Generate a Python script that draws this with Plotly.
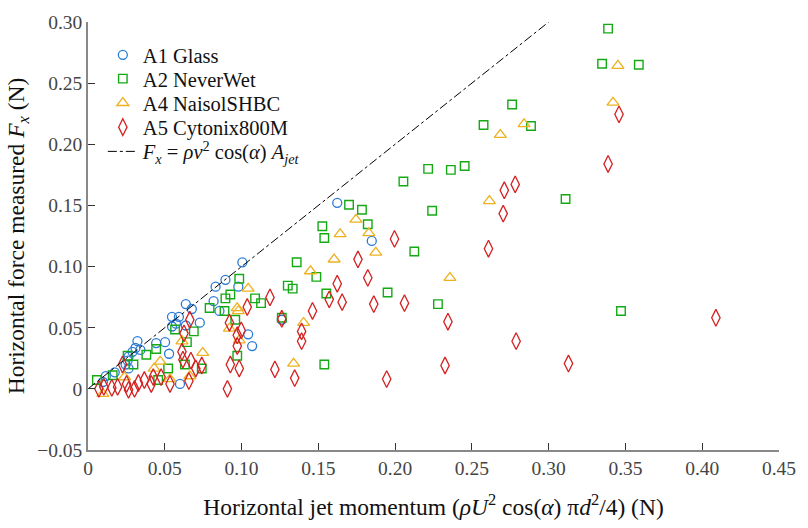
import plotly.graph_objects as go

# A1 Glass
a1_x = [0.1623, 0.1848, 0.1005, 0.0895, 0.0831, 0.0979, 0.0818, 0.0856, 0.0637, 0.0676,
        0.0547, 0.0592, 0.0573, 0.0637, 0.0728, 0.1043, 0.1069, 0.1262, 0.0502, 0.0444,
        0.0322, 0.0309, 0.0290, 0.0341, 0.0264, 0.0258, 0.0245, 0.0528, 0.0174, 0.0116,
        0.0097, 0.0264, 0.0599, 0.0547]
a1_y = [0.1521, 0.1210, 0.1035, 0.0892, 0.0836, 0.0836, 0.0717, 0.0637, 0.0693, 0.0653,
        0.0589, 0.0589, 0.0533, 0.0518, 0.0541, 0.0446, 0.0350, 0.0565, 0.0382, 0.0374,
        0.0390, 0.0334, 0.0303, 0.0318, 0.0263, 0.0231, 0.0199, 0.0287, 0.0135, 0.0104,
        0.0056, 0.0167, 0.0040, 0.0510]

# A2 NeverWet
a2_x = [0.3387, 0.3348, 0.3587, 0.2762, 0.2576, 0.2885, 0.2215, 0.2363, 0.2453, 0.2054,
        0.2241, 0.3110, 0.1822, 0.2125, 0.1951, 0.2279, 0.3471, 0.1700, 0.1784, 0.1526,
        0.1539, 0.1359, 0.1487, 0.1552, 0.1301, 0.1333, 0.0985, 0.0927, 0.0895, 0.1088,
        0.1127, 0.0792, 0.0889, 0.0959, 0.0689, 0.0644, 0.0972, 0.0631, 0.0741, 0.1262,
        0.1539, 0.0567, 0.0444, 0.0380, 0.0258, 0.0296, 0.0161, 0.0058, 0.0522, 0.0457]
a2_y = [0.2946, 0.2659, 0.2651, 0.2325, 0.2158, 0.2150, 0.1799, 0.1791, 0.1823, 0.1696,
        0.1457, 0.1553, 0.1346, 0.1123, 0.0788, 0.0693, 0.0637, 0.1505, 0.1465, 0.1330,
        0.1234, 0.1035, 0.0916, 0.0780, 0.0844, 0.0820, 0.0900, 0.0772, 0.0740, 0.0740,
        0.0701, 0.0661, 0.0637, 0.0565, 0.0470, 0.0382, 0.0271, 0.0199, 0.0167, 0.0581,
        0.0199, 0.0486, 0.0326, 0.0279, 0.0271, 0.0199, 0.0111, 0.0072, 0.0167, 0.0072]

# A4 NaisolSHBC
a4_x = [0.3451, 0.3419, 0.2840, 0.2685, 0.2614, 0.1829, 0.1874, 0.2357, 0.1745, 0.1642,
        0.1603, 0.1449, 0.1043, 0.0972, 0.0979, 0.0921, 0.0985, 0.0612, 0.0747, 0.1404,
        0.1339, 0.0663, 0.0470, 0.0431, 0.0238, 0.0097, 0.0534]
a4_y = [0.2643, 0.2341, 0.2166, 0.2078, 0.1537, 0.1274, 0.1115, 0.0908, 0.1385, 0.1266,
        0.1059, 0.0963, 0.0820, 0.0661, 0.0637, 0.0494, 0.0398, 0.0390, 0.0295, 0.0541,
        0.0207, 0.0104, 0.0223, 0.0167, 0.0096, -0.0040, 0.0080]

# A5 Cytonix800M
a5_x = [0.3458, 0.3387, 0.2782, 0.2711, 0.2704, 0.1996, 0.2608, 0.1822, 0.1861, 0.2061,
        0.2344, 0.2788, 0.3129, 0.2325, 0.1945, 0.4089, 0.1758, 0.1623, 0.1571, 0.1655,
        0.1462, 0.1391, 0.1391, 0.1185, 0.1037, 0.0921, 0.0998, 0.0972, 0.0972, 0.0663,
        0.0625, 0.0612, 0.0618, 0.0670, 0.0702, 0.0741, 0.0927, 0.0985, 0.1217, 0.1346,
        0.0908, 0.0657, 0.1262, 0.0225, 0.0071, 0.0103, 0.0155, 0.0193, 0.0251, 0.0264,
        0.0303, 0.0328, 0.0367, 0.0412, 0.0425, 0.0476, 0.0534]
a5_y = [0.2245, 0.1839, 0.1672, 0.1624, 0.1433, 0.1226, 0.1146, 0.0908, 0.0693, 0.0701,
        0.0549, 0.0390, 0.0207, 0.0191, 0.0080, 0.0581, 0.1059, 0.0860, 0.0732, 0.0709,
        0.0637, 0.0470, 0.0390, 0.0748, 0.0669, 0.0541, 0.0478, 0.0438, 0.0350, 0.0565,
        0.0454, 0.0303, 0.0239, 0.0231, 0.0167, 0.0191, 0.0199, 0.0167, 0.0159, 0.0088,
        0.0000, 0.0064, 0.0573, 0.0199, 0.0000, 0.0016, 0.0008, 0.0016, 0.0040, -0.0008,
        0.0000, 0.0048, 0.0072, 0.0040, 0.0096, 0.0096, 0.0040]

# Model line F_x = rho v^2 cos(alpha) A_jet  (F = momentum)
model_x = [0.0, 0.30]
model_y = [0.0, 0.30]

x_ticks = [0, 0.05, 0.10, 0.15, 0.20, 0.25, 0.30, 0.35, 0.40, 0.45]
x_ticktext = ["0", "0.05", "0.10", "0.15", "0.20", "0.25", "0.30", "0.35", "0.40", "0.45"]
y_ticks = [-0.05, 0, 0.05, 0.10, 0.15, 0.20, 0.25, 0.30]
y_ticktext = ["\u22120.05", "0", "0.05", "0.10", "0.15", "0.20", "0.25", "0.30"]

FONT = "Liberation Serif"
c_blue, c_green, c_orange, c_red = "#2b7bd6", "#14aa14", "#EDB120", "#D42020"

fig = go.Figure()
fig.add_trace(go.Scatter(x=a1_x, y=a1_y, mode="markers", name="A1 Glass", legend="legend",
                         marker=dict(symbol="circle-open", size=9, color=c_blue, line=dict(width=1.3))))
fig.add_trace(go.Scatter(x=a2_x, y=a2_y, mode="markers", name="A2 NeverWet", legend="legend2",
                         marker=dict(symbol="square-open", size=8.5, color=c_green, line=dict(width=1.4))))
fig.add_trace(go.Scatter(x=a4_x, y=a4_y, mode="markers", name="A4 NaisolSHBC", legend="legend3",
                         marker=dict(symbol="triangle-up-open", size=10.5, color=c_orange, line=dict(width=1.3))))
fig.add_trace(go.Scatter(x=a5_x, y=a5_y, mode="markers", name="A5 Cytonix800M", legend="legend4",
                         marker=dict(symbol="diamond-tall-open", size=12, color=c_red, line=dict(width=1.3))))
fig.add_trace(go.Scatter(x=model_x, y=model_y, mode="lines", legend="legend5",
                         name="<i>F</i><sub><i>x</i></sub> = <i>\u03c1v</i><sup>2</sup> cos(<i>\u03b1</i>) <i>A</i><sub><i>jet</i></sub>",
                         line=dict(color="black", width=1, dash="dashdot")))

T, B, L, R = 13, 74, 88, 21
PH = 528 - T - B
PW = 808 - L - R
row_px = [47, 71.5, 96.5, 121.5, 146.5]
leg_left_px = 103


def leg(py):
    return dict(x=(leg_left_px - L) / PW, y=1 - (py - T) / PH, xanchor="left", yanchor="middle",
                bgcolor="rgba(0,0,0,0)", font=dict(family=FONT, size=20.5, color="#111"),
                itemwidth=30)


fig.update_layout(
    width=808, height=528,
    margin=dict(l=L, r=R, t=T, b=B),
    paper_bgcolor="white", plot_bgcolor="white",
    font=dict(family=FONT, size=17, color="#262626"),
    showlegend=True,
    legend=leg(row_px[0]), legend2=leg(row_px[1]), legend3=leg(row_px[2]),
    legend4=leg(row_px[3]), legend5=leg(row_px[4]),
    xaxis=dict(range=[0, 0.45], tickvals=x_ticks, ticktext=x_ticktext,
               showgrid=False, zeroline=False, showline=True, linecolor="#888", linewidth=1.5,
               ticks="inside", ticklen=7, tickcolor="#333", tickwidth=1,
               ticklabeloverflow="allow",
               tickfont=dict(family=FONT, size=19.5, color="#444"),
               title=dict(text="Horizontal jet momentum (<i>\u03c1U</i><sup>2</sup> cos(<i>\u03b1</i>) \u03c0<i>d</i><sup>2</sup>/4) (N)",
                          font=dict(family=FONT, size=23.5, color="#111"), standoff=20)),
    yaxis=dict(range=[-0.05, 0.30], tickvals=y_ticks, ticktext=y_ticktext,
               showgrid=False, zeroline=False, showline=True, linecolor="#888", linewidth=1.5,
               ticks="inside", ticklen=7, tickcolor="#333", tickwidth=1,
               ticklabeloverflow="allow",
               tickfont=dict(family=FONT, size=19.5, color="#444"),
               title=dict(text="Horizontal force measured <i>F</i><sub><i>x</i></sub> (N)",
                          font=dict(family=FONT, size=23.5, color="#111"), standoff=6)),
)

fig.write_html("out.html")
